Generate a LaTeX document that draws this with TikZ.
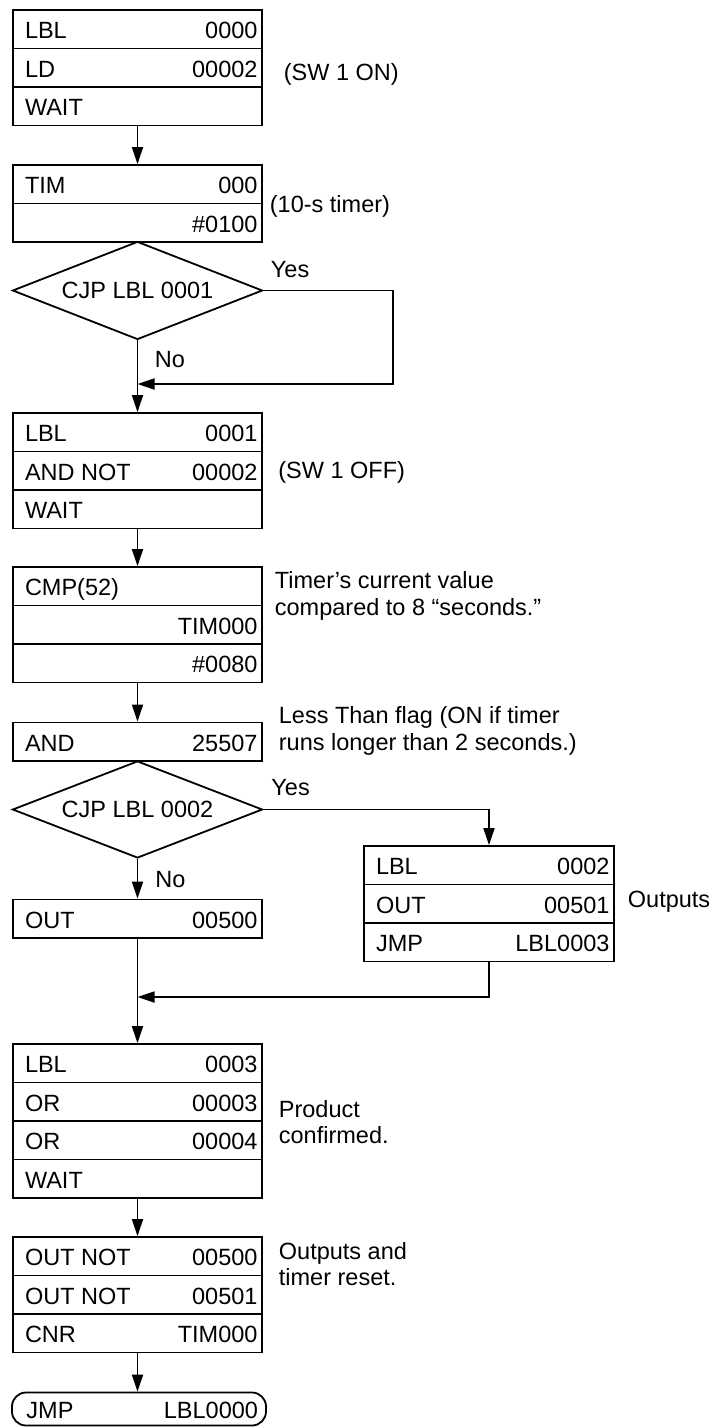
\documentclass[tikz,border=0pt]{standalone}
\usepackage{fontspec}
\setmainfont{Liberation Sans}
\usetikzlibrary{arrows.meta,shapes.geometric}
\newcommand{\rtx}[3][249pt]{\makebox[#1][s]{\hspace*{12pt}#2\hfill#3\hspace*{4.5pt}}}
\begin{document}
\begin{tikzpicture}[x=1pt,y=-1pt,line width=1.8pt,
  every node/.style={font=\fontsize{23.5}{27}\selectfont},
  row/.style={draw,rectangle,minimum width=249pt,minimum height=38.5pt,inner sep=0pt,text height=18.5pt,text depth=0pt},
  rrow/.style={row,minimum width=250pt},
  dec/.style={draw,diamond,aspect=2.5,minimum width=250pt,minimum height=98pt,inner sep=0pt},
  term/.style={draw,rectangle,rounded corners=14pt,minimum width=254pt,minimum height=33pt,inner sep=0pt,text height=18.5pt,text depth=0pt},
  note/.style={anchor=base west,inner sep=0pt,align=left},
  arr/.style={-{Triangle[length=17pt,width=11pt]}}]
\useasboundingbox (0,0) rectangle (711,1427);
% box 1
\node[row] (r1a) at (137.5,29.25) {\rtx{LBL}{0000}};
\node[row] (r1b) at (137.5,67.75) {\rtx{LD}{00002}};
\node[row] (r1c) at (137.5,106.25) {\rtx{WAIT}{}};
\node[note] (n1) at (283,80) {(SW 1 ON)};
% box 2
\node[row] (r2a) at (137.5,184.25) {\rtx{TIM}{000}};
\node[row] (r2b) at (137.5,222.75) {\rtx{}{\#0100}};
\node[note] (n2) at (269,212) {(10-s timer)};
% decision 1
\node[dec] (d1) at (137.5,290.5) {CJP LBL 0001};
\node[note] (y1) at (270,277) {Yes};
\node[note] (no1) at (154,367) {No};
\coordinate (m1) at (137.5,384);
\coordinate (c1) at (393,384);
% box 3
\node[row] (r3a) at (137.5,432.25) {\rtx{LBL}{0001}};
\node[row] (r3b) at (137.5,470.75) {\rtx{AND NOT}{00002}};
\node[row] (r3c) at (137.5,509.25) {\rtx{WAIT}{}};
\node[note] (n3) at (277.5,478) {(SW 1 OFF)};
% box 4
\node[row] (r4a) at (137.5,586.25) {\rtx{CMP(52)}{}};
\node[row] (r4b) at (137.5,624.75) {\rtx{}{TIM000}};
\node[row] (r4c) at (137.5,663.25) {\rtx{}{\#0080}};
\node[note] (n4) at (274,615) {Timer’s current value\\compared to 8 “seconds.”};
% box 5
\node[row] (r5) at (137.5,741.75) {\rtx{AND}{25507}};
\node[note] (n5) at (278,750) {Less Than flag (ON if timer\\runs longer than 2 seconds.)};
% decision 2
\node[dec,minimum height=97pt] (d2) at (137.5,809.5) {CJP LBL 0002};
\node[note] (y2) at (270.5,795) {Yes};
\node[note] (no2) at (154.5,887) {No};
% out box
\node[row] (r6) at (137.5,918.75) {\rtx{OUT}{00500}};
% right box
\node[rrow] (r8a) at (489,865.25) {\rtx[250pt]{LBL}{0002}};
\node[rrow] (r8b) at (489,903.75) {\rtx[250pt]{OUT}{00501}};
\node[rrow] (r8c) at (489,942.25) {\rtx[250pt]{JMP}{LBL0003}};
\node[note] (n8) at (627,907) {Outputs};
\coordinate (m2) at (137.5,997);
% box 6
\node[row] (r9a) at (137.5,1063.25) {\rtx{LBL}{0003}};
\node[row] (r9b) at (137.5,1101.75) {\rtx{OR}{00003}};
\node[row] (r9c) at (137.5,1140.25) {\rtx{OR}{00004}};
\node[row] (r9d) at (137.5,1178.75) {\rtx{WAIT}{}};
\node[note,font=\fontsize{23.5}{26}\selectfont] (n9) at (278,1143) {Product\\confirmed.};
% box 7
\node[row] (r10a) at (137.5,1256.25) {\rtx{OUT NOT}{00500}};
\node[row] (r10b) at (137.5,1294.75) {\rtx{OUT NOT}{00501}};
\node[row] (r10c) at (137.5,1333.25) {\rtx{CNR}{TIM000}};
\node[note,font=\fontsize{23.5}{25.5}\selectfont] (n10) at (278,1285) {Outputs and\\timer reset.};
% terminal
\node[term] (t) at (139,1409) {\makebox[254pt][s]{\hspace*{14.5pt}JMP\hfill LBL0000\hspace*{8pt}}};
% connectors
\draw[arr] (r1c.south) -- (r2a.north);
\draw[arr] (d1.east) -| (c1) -- (m1);
\draw[arr] (d1.south) -- (r3a.north);
\draw[arr] (r3c.south) -- (r4a.north);
\draw[arr] (r4c.south) -- (r5.north);
\draw[arr] (d2.east) -| (r8a.north);
\draw[arr] (d2.south) -- (r6.north);
\draw[arr] (r6.south) -- (r9a.north);
\draw[arr] (r8c.south) |- (m2);
\draw[arr] (r9d.south) -- (r10a.north);
\draw[arr] (r10c.south) -- (r10c.south |- t.north);
\end{tikzpicture}
\end{document}
